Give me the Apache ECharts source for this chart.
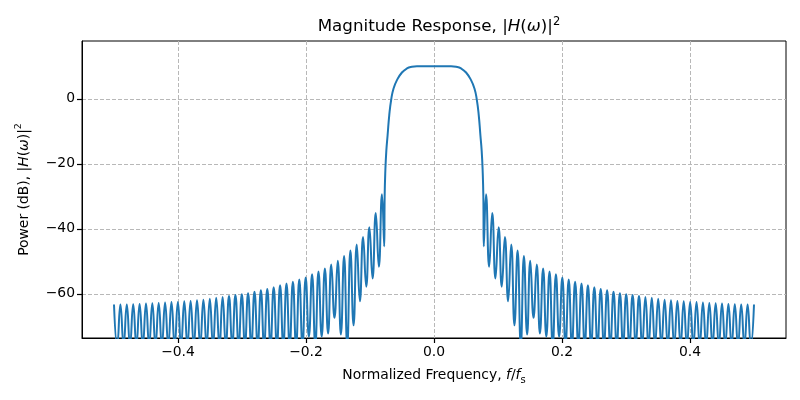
<!DOCTYPE html>
<html><head><meta charset="utf-8">
<script src="https://cdn.jsdelivr.net/npm/echarts@6/dist/echarts.min.js"></script>
<style>html,body{margin:0;padding:0;background:#fff}#c{width:800px;height:400px}</style>
</head><body><div id="c"></div>
<script>
// Positive-frequency half (the response is symmetric about f = 0).
// Main lobe, from the centre out to its first null
const mainFreq = [0, 0.0267, 0.0345, 0.0423, 0.0501, 0.0579, 0.0632, 0.0667, 0.0699, 0.0725, 0.0745, 0.0760, 0.0771, 0.0778];
const mainDb   = [10.0, 10.0, 9.85, 9.35, 8.1, 5.75, 3.2, 0, -5, -11.2, -16, -22, -30, -45.4];
// Sidelobe peaks
const peakFreq = [0.0813, 0.0910, 0.1010, 0.1108, 0.1207, 0.1306, 0.1405, 0.1504, 0.1605, 0.1705,
                  0.1805, 0.1905, 0.2005, 0.2105, 0.2205, 0.2305, 0.2405, 0.2505, 0.2605, 0.2705,
                  0.2805, 0.2905, 0.3003, 0.3103, 0.3203, 0.3303, 0.3403, 0.3503, 0.3603, 0.3703,
                  0.3803, 0.3902, 0.4002, 0.4102, 0.4202, 0.4302, 0.4401, 0.4500, 0.4600, 0.4700,
                  0.4800, 0.4900];
const peakDb   = [-29.4, -35.1, -39.5, -42.5, -44.8, -46.7, -48.4, -49.8, -51.0, -52.2,
                  -53.1, -54.0, -55.0, -55.6, -56.3, -56.8, -57.4, -58.0, -58.5, -58.9,
                  -59.4, -59.8, -60.1, -60.4, -60.7, -61.0, -61.2, -61.5, -61.8, -62.0,
                  -62.2, -62.3, -62.5, -62.5, -62.7, -62.8, -62.9, -63.0, -63.1, -63.2,
                  -63.3, -63.3];
// Nulls following each sidelobe peak (values below the axis floor are hidden in the picture)
const nullFreq = [0.0862, 0.0960, 0.1059, 0.1158, 0.1257, 0.1356, 0.1455, 0.1555, 0.1655, 0.1755,
                  0.1855, 0.1955, 0.2055, 0.2155, 0.2255, 0.2355, 0.2455, 0.2555, 0.2655, 0.2755,
                  0.2855, 0.2954, 0.3053, 0.3153, 0.3253, 0.3353, 0.3453, 0.3553, 0.3653, 0.3753,
                  0.3853, 0.3952, 0.4052, 0.4152, 0.4252, 0.4352, 0.4451, 0.4550, 0.4650, 0.4750,
                  0.4850, 0.4950];
const nullDb   = [-51.7, -55.3, -57.8, -62.3, -69.7, -76, -72.5, -67.4, -72.2, -73.2,
                  -76, -73.2, -76, -76, -76, -76, -76, -76, -76, -76,
                  -76, -76, -76, -76, -76, -76, -76, -76, -76, -76,
                  -76, -76, -76, -76, -76, -76, -76, -76, -76, -76,
                  -76, -76];
const edgeFreq = [0.5];
const edgeDb   = [-63.3];

const xTicks = [-0.4, -0.2, 0.0, 0.2, 0.4];
const yTicks = [-60, -40, -20, 0];

// Build the (frequency, dB) table
const half = [];
mainFreq.forEach((f, i) => half.push([f, mainDb[i]]));
peakFreq.forEach((f, i) => { half.push([f, peakDb[i]]); half.push([nullFreq[i], nullDb[i]]); });
edgeFreq.forEach((f, i) => half.push([f, edgeDb[i]]));
const leftHalf = half.slice(1).map(p => [-p[0], p[1]]).reverse();
const curve = leftHalf.concat(half);

const FONT = 'DejaVu Sans';
const minus = s => String(s).replace('-', '\u2212');
const base = {fontFamily: FONT, fontSize: 16.7, fontWeight: 'normal', color: '#000', lineHeight: 22};
const lab = {fontFamily: FONT, fontSize: 13.9, fontWeight: 'normal', color: '#000', lineHeight: 20};

const chart = echarts.init(document.getElementById('c'), null, {renderer: 'canvas'});
chart.setOption({
  animation: false,
  title: {
    text: '{a|Magnitude Response, |}{i|H}{a|(}{i|ω}{a|)|}{s|2}',
    left: 434, top: 11, textAlign: 'center',
    textStyle: {fontWeight: 'normal', fontFamily: FONT, rich: {
      a: base,
      i: Object.assign({}, base, {fontStyle: 'italic'}),
      s: {fontFamily: FONT, fontSize: 11.5, fontWeight: 'normal', color: '#000', lineHeight: 22, verticalAlign: 'top'}
    }}
  },
  grid: {left: 82, right: 14, top: 41, bottom: 62, show: true, borderColor: '#000', borderWidth: 1},
  xAxis: {
    type: 'value', min: -0.55, max: 0.55,
    name: '{a|Normalized Frequency, }{i|f}{a|/}{i|f}{b|s}',
    nameLocation: 'middle', nameGap: 27,
    nameTextStyle: {rich: {
      a: lab, i: Object.assign({}, lab, {fontStyle: 'italic'}),
      b: {fontFamily: FONT, fontSize: 10, color: '#000', lineHeight: 20, verticalAlign: 'bottom'}
    }},
    axisLine: {show: true, onZero: false, lineStyle: {color: '#000', width: 1}},
    axisTick: {show: true, length: 5, customValues: xTicks, lineStyle: {color: '#000', width: 1.2}},
    axisLabel: {customValues: xTicks, margin: 7, fontFamily: FONT, fontSize: 13.9, color: '#000',
      formatter: v => minus(v.toFixed(1))},
    splitLine: {show: true, lineStyle: {color: '#b8b8b8', type: [4, 2], width: 1}}
  },
  yAxis: {
    type: 'value', min: -73.6, max: 17.8,
    name: '{a|Power (dB), |}{i|H}{a|(}{i|ω}{a|)|}{s|2}',
    nameLocation: 'middle', nameGap: 48,
    nameTextStyle: {rich: {
      a: lab, i: Object.assign({}, lab, {fontStyle: 'italic'}),
      s: {fontFamily: FONT, fontSize: 9.5, color: '#000', lineHeight: 20, verticalAlign: 'top'}
    }},
    axisLine: {show: true, onZero: false, lineStyle: {color: '#000', width: 1}},
    axisTick: {show: true, length: 5, customValues: yTicks, lineStyle: {color: '#000', width: 1.2}},
    axisLabel: {customValues: yTicks, margin: 7, fontFamily: FONT, fontSize: 13.9, color: '#000',
      formatter: v => minus(v)},
    splitLine: {show: true, lineStyle: {color: '#b8b8b8', type: [4, 2], width: 1}}
  },
  series: [{
    type: 'line', data: curve, symbol: 'none', smooth: true, clip: true,
    lineStyle: {color: '#1f77b4', width: 2}
  }]
});
</script>
</body></html>
